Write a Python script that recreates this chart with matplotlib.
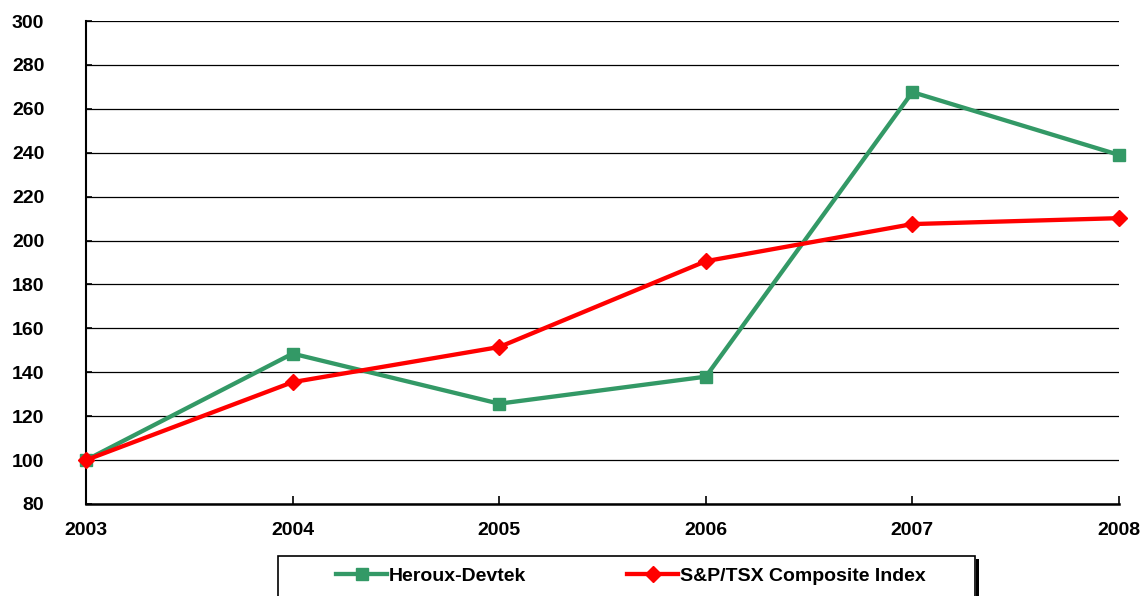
import matplotlib
matplotlib.use("Agg")
import matplotlib.pyplot as plt
from matplotlib.patches import Rectangle

years = [2003, 2004, 2005, 2006, 2007, 2008]
heroux = [100, 148.5, 125.7, 138.0, 267.6, 239.0]
sptsx = [100, 135.5, 151.5, 190.6, 207.5, 210.2]
yticks = [80, 100, 120, 140, 160, 180, 200, 220, 240, 260, 280, 300]

plt.rcParams['font.family'] = ['Liberation Sans', 'DejaVu Sans']
plt.rcParams['font.weight'] = 'bold'

fig = plt.figure(figsize=(11.44, 5.96), dpi=100)
ax = fig.add_axes([86/1144, 1-504/596, (1119-86)/1144, (504-21)/596])

green = '#339966'
red = '#FF0000'
ax.plot(years, heroux, color=green, lw=3.1, marker='s', ms=9, label='Heroux-Devtek', zorder=3, clip_on=False)
ax.plot(years, sptsx, color=red, lw=3.1, marker='D', ms=8.5, label='S&P/TSX Composite Index', zorder=4, clip_on=False)

ax.set_xlim(2003, 2008)
ax.set_ylim(80, 300)
ax.set_yticks(yticks)
ax.set_xticks(years)
ax.set_xticklabels([str(y) for y in years], fontsize=14, fontweight='bold')
ax.set_yticklabels([str(v) for v in yticks], fontsize=14, fontweight='bold')
ax.tick_params(axis='y', direction='in', length=4, width=1.2, pad=30)
ax.tick_params(axis='x', direction='in', length=6, width=1.2, pad=13)
ax.yaxis.grid(True, color='black', lw=0.9)
ax.set_axisbelow(True)
for s in ['top', 'right']:
    ax.spines[s].set_visible(False)
ax.spines['left'].set_linewidth(1.5)
ax.spines['bottom'].set_linewidth(1.8)

# legend frame
fig.patches.append(Rectangle((278/1144, -0.02), (975-278)/1144, (0.02 + 1-556/596),
                             transform=fig.transFigure, fill=False, ec='black', lw=1.2))
fig.patches.append(Rectangle((976/1144, -0.02), 3/1144, (0.02 + 1-559/596),
                             transform=fig.transFigure, fill=True, fc='black', ec='none'))
leg = fig.legend(loc='center', bbox_to_anchor=(631/1144, 1-576/596), ncol=2, frameon=False,
                 handlelength=2.6, handletextpad=0.1, columnspacing=5.2,
                 prop={'weight': 'bold', 'size': 14})

fig.savefig('out.png', dpi=100)
